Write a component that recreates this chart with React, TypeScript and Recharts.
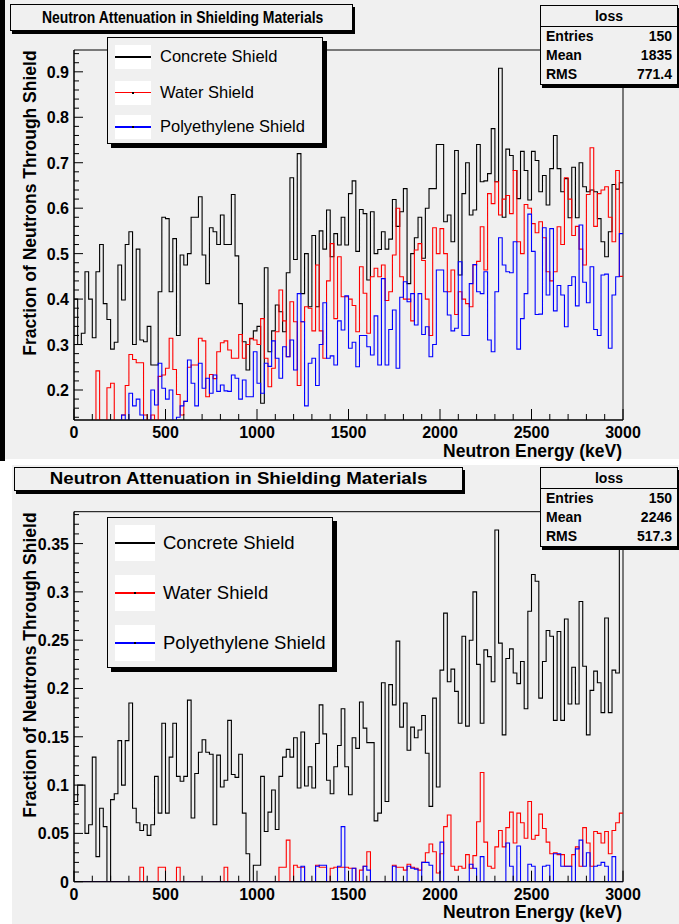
import React from 'react';
import { LineChart, Line, XAxis, YAxis, ReferenceArea } from 'recharts';

const FONT = '"Liberation Sans", Arial, Helvetica, sans-serif';
const BG = '#f0f0f0';

// 150 bins of 20 keV, low edges
const binLow = Array.from({ length: 150 }, (_, i) => i * 20);

// ---- upper pad ----
const topConcrete = [
  0.40, 0.30, 0.325, 0.46, 0.40, 0.315, 0.46, 0.52, 0.39, 0.355,
  0.29, 0.305, 0.475, 0.398, 0.52, 0.548, 0.30, 0.51, 0.31, 0.306,
  0.34, 0.255, 0.255, 0.416, 0.58, 0.577, 0.416, 0.533, 0.32, 0.497,
  0.475, 0.50, 0.58, 0.58, 0.625, 0.497, 0.434, 0.557, 0.548, 0.52,
  0.585, 0.52, 0.52, 0.63, 0.495, 0.39, 0.306, 0.244, 0.313, 0.33,
  0.34, 0.171, 0.469, 0.284, 0.33, 0.387, 0.372, 0.328, 0.458, 0.667,
  0.487, 0.72, 0.412, 0.50, 0.383, 0.54, 0.383, 0.55, 0.51, 0.596,
  0.493, 0.544, 0.519, 0.58, 0.519, 0.632, 0.66, 0.505, 0.597, 0.588,
  0.442, 0.592, 0.50, 0.509, 0.548, 0.51, 0.532, 0.619, 0.56, 0.592,
  0.643, 0.434, 0.50, 0.535, 0.58, 0.49, 0.60, 0.643, 0.643, 0.74,
  0.74, 0.57, 0.585, 0.526, 0.727, 0.453, 0.632, 0.70, 0.585, 0.596,
  0.74, 0.658, 0.66, 0.676, 0.775, 0.658, 0.908, 0.58, 0.73, 0.716,
  0.683, 0.621, 0.725, 0.683, 0.618, 0.725, 0.705, 0.636, 0.672, 0.607,
  0.687, 0.76, 0.687, 0.636, 0.665, 0.579, 0.69, 0.579, 0.70, 0.647,
  0.636, 0.64, 0.636, 0.577, 0.526, 0.493, 0.548, 0.652, 0.642, 0.656,
];
const topWater = [
  0.12, 0.12, 0.12, 0.12, 0.12, 0.12, 0.242, 0.12, 0.12, 0.205,
  0.215, 0.12, 0.12, 0.145, 0.21, 0.278, 0.267, 0.26, 0.26, 0.145,
  0.12, 0.145, 0.12, 0.23, 0.233, 0.248, 0.314, 0.245, 0.19, 0.145,
  0.175, 0.25, 0.255, 0.255, 0.314, 0.308, 0.185, 0.234, 0.225, 0.284,
  0.304, 0.308, 0.288, 0.27, 0.27, 0.322, 0.27, 0.30, 0.314, 0.31,
  0.30, 0.357, 0.27, 0.207, 0.248, 0.328, 0.42, 0.352, 0.273, 0.394,
  0.35, 0.21, 0.35, 0.383, 0.38, 0.33, 0.475, 0.33, 0.27, 0.44,
  0.522, 0.357, 0.493, 0.405, 0.405, 0.40, 0.386, 0.328, 0.471, 0.413,
  0.325, 0.449, 0.468, 0.449, 0.475, 0.397, 0.416, 0.497, 0.60, 0.449,
  0.40, 0.40, 0.352, 0.508, 0.522, 0.485, 0.40, 0.32, 0.557, 0.50,
  0.555, 0.50, 0.416, 0.464, 0.366, 0.416, 0.40, 0.39, 0.383, 0.475,
  0.483, 0.559, 0.464, 0.632, 0.61, 0.658, 0.585, 0.62, 0.628, 0.588,
  0.683, 0.526, 0.50, 0.608, 0.60, 0.566, 0.546, 0.57, 0.535, 0.46,
  0.44, 0.46, 0.559, 0.52, 0.667, 0.62, 0.54, 0.56, 0.51, 0.475,
  0.63, 0.733, 0.56, 0.632, 0.64, 0.647, 0.58, 0.526, 0.683, 0.45,
];
const topPoly = [
  0.12, 0.12, 0.12, 0.12, 0.12, 0.12, 0.12, 0.12, 0.12, 0.12,
  0.12, 0.12, 0.12, 0.145, 0.12, 0.193, 0.165, 0.18, 0.145, 0.12,
  0.12, 0.20, 0.167, 0.259, 0.204, 0.18, 0.20, 0.12, 0.14, 0.165,
  0.175, 0.266, 0.215, 0.165, 0.259, 0.204, 0.226, 0.193, 0.233, 0.197,
  0.211, 0.198, 0.197, 0.233, 0.226, 0.18, 0.222, 0.185, 0.185, 0.284,
  0.215, 0.193, 0.259, 0.252, 0.308, 0.27, 0.226, 0.295, 0.273, 0.31,
  0.244, 0.412, 0.35, 0.165, 0.259, 0.27, 0.21, 0.30, 0.392, 0.27,
  0.275, 0.255, 0.352, 0.332, 0.407, 0.292, 0.305, 0.251, 0.32, 0.32,
  0.295, 0.277, 0.363, 0.255, 0.445, 0.255, 0.333, 0.376, 0.248, 0.404,
  0.438, 0.394, 0.412, 0.343, 0.412, 0.322, 0.339, 0.273, 0.30, 0.464,
  0.464, 0.416, 0.365, 0.33, 0.336, 0.482, 0.32, 0.32, 0.434, 0.476,
  0.416, 0.412, 0.46, 0.31, 0.284, 0.416, 0.535, 0.475, 0.46, 0.458,
  0.526, 0.29, 0.357, 0.412, 0.587, 0.505, 0.366, 0.367, 0.557, 0.409,
  0.555, 0.374, 0.43, 0.409, 0.339, 0.43, 0.449, 0.385, 0.563, 0.437,
  0.392, 0.471, 0.333, 0.32, 0.453, 0.455, 0.292, 0.409, 0.449, 0.544,
];

// ---- lower pad ----
const botConcrete = [
  0.083, 0.10, 0.10, 0.05, 0.059, 0.129, 0.026, 0.076, 0.057, 0.0,
  0.085, 0.091, 0.146, 0.10, 0.146, 0.185, 0.076, 0.061, 0.053, 0.059,
  0.048, 0.059, 0.109, 0.071, 0.164, 0.071, 0.129, 0.164, 0.109, 0.104,
  0.109, 0.188, 0.066, 0.112, 0.134, 0.147, 0.134, 0.132, 0.059, 0.131,
  0.098, 0.105, 0.167, 0.111, 0.108, 0.132, 0.071, 0.029, 0.0, 0.017,
  0.017, 0.109, 0.052, 0.072, 0.095, 0.054, 0.109, 0.129, 0.137, 0.129,
  0.149, 0.097, 0.155, 0.099, 0.119, 0.097, 0.143, 0.183, 0.153, 0.105,
  0.091, 0.119, 0.141, 0.179, 0.119, 0.09, 0.149, 0.138, 0.186, 0.159,
  0.144, 0.144, 0.063, 0.071, 0.206, 0.083, 0.204, 0.183, 0.249, 0.16,
  0.185, 0.136, 0.16, 0.149, 0.157, 0.172, 0.133, 0.078, 0.19, 0.098,
  0.219, 0.278, 0.207, 0.22, 0.197, 0.164, 0.254, 0.161, 0.25, 0.30,
  0.225, 0.164, 0.24, 0.233, 0.207, 0.364, 0.247, 0.152, 0.231, 0.241,
  0.216, 0.205, 0.228, 0.179, 0.28, 0.318, 0.311, 0.19, 0.228, 0.26,
  0.254, 0.167, 0.259, 0.167, 0.272, 0.184, 0.222, 0.184, 0.29, 0.223,
  0.152, 0.198, 0.218, 0.206, 0.175, 0.273, 0.175, 0.219, 0.216, 0.36,
];
const botWater = [
  0, 0, 0, 0, 0, 0, 0, 0, 0, 0,
  0, 0, 0, 0, 0, 0, 0, 0, 0.015, 0,
  0, 0, 0, 0.015, 0.015, 0, 0, 0, 0.015, 0,
  0, 0, 0, 0, 0, 0, 0, 0, 0, 0,
  0, 0.015, 0, 0, 0, 0, 0, 0, 0, 0,
  0, 0, 0, 0, 0, 0, 0.015, 0.015, 0.043, 0,
  0.017, 0.015, 0.015, 0, 0, 0, 0.017, 0.015, 0.015, 0,
  0.014, 0.015, 0.015, 0.015, 0.015, 0.014, 0.014, 0, 0.012, 0.016,
  0.031, 0, 0, 0, 0, 0, 0, 0.017, 0.015, 0.015,
  0.012, 0.018, 0.015, 0.014, 0.012, 0.02, 0.03, 0.039, 0.031, 0.009,
  0.029, 0.057, 0.069, 0.016, 0.012, 0.016, 0.014, 0.028, 0.014, 0.027,
  0.062, 0.113, 0.041, 0.016, 0.014, 0.036, 0.053, 0.036, 0.056, 0.072,
  0.04, 0.071, 0.061, 0.045, 0.083, 0.044, 0.048, 0.07, 0.055, 0.041,
  0.029, 0.03, 0.028, 0.028, 0.016, 0.016, 0.028, 0.036, 0.016, 0.056,
  0.04, 0.016, 0.052, 0.05, 0.04, 0.052, 0.029, 0.053, 0.061, 0.071,
];
const botPoly = [
  0, 0, 0, 0, 0, 0, 0, 0, 0, 0,
  0, 0, 0, 0, 0, 0, 0, 0, 0, 0,
  0, 0, 0, 0, 0, 0, 0, 0, 0, 0,
  0, 0, 0, 0, 0, 0, 0, 0, 0, 0,
  0, 0, 0, 0, 0, 0, 0, 0, 0, 0,
  0, 0, 0, 0, 0, 0, 0, 0, 0, 0,
  0, 0, 0.016, 0, 0, 0, 0.016, 0.017, 0.017, 0,
  0, 0, 0.016, 0.057, 0, 0, 0.014, 0, 0, 0.016,
  0.012, 0, 0, 0, 0, 0, 0, 0.016, 0, 0,
  0, 0.016, 0.014, 0.013, 0, 0.02, 0.02, 0.017, 0, 0,
  0.041, 0, 0, 0, 0, 0, 0, 0, 0.018, 0.014,
  0, 0.026, 0, 0, 0, 0, 0, 0, 0.04, 0.016,
  0, 0.037, 0, 0, 0.018, 0.016, 0, 0, 0.016, 0.017,
  0, 0.029, 0.029, 0.016, 0.016, 0.016, 0, 0.034, 0.043, 0.016,
  0.03, 0, 0.016, 0.017, 0.02, 0.016, 0, 0.026, 0, 0,
];

const xMinorTicks = Array.from({ length: 31 }, (_, i) => i * 100);
const legendNames = ['Concrete Shield', 'Water Shield', 'Polyethylene Shield'];
const seriesColors = ['#000000', '#ff0000', '#0000ff'];

const topStats = { entries: '150', mean: '1835', rms: '771.4' };
const botStats = { entries: '150', mean: '2246', rms: '517.3' };

const topDomain: [number, number] = [0.134, 0.948];
const botDomain: [number, number] = [0, 0.383];
const topYTicks = Array.from({ length: 41 }, (_, i) => +(0.14 + i * 0.02).toFixed(2));
const botYTicks = Array.from({ length: 39 }, (_, i) => +(i * 0.01).toFixed(2));

const buildRows = (c: number[], w: number[], p: number[]) => {
  const rows = binLow.map((e, i) => ({ e, c: c[i], w: w[i], p: p[i] }));
  // closing edge of the last bin
  rows.push({ e: 3000, c: c[149], w: w[149], p: p[149] });
  return rows;
};

const labelStyle = { fontFamily: FONT, fontWeight: 700, fontSize: 16, fill: '#000' };

const XTick = (props: any) => {
  const { x, y, payload } = props;
  const v = payload.value;
  const major = v % 500 === 0;
  return (
    <g>
      <line x1={x} x2={x} y1={y} y2={y - (major ? 11 : 6)} stroke="#000" strokeWidth={1} />
      {major && (
        <text x={x} y={y + 18} textAnchor="middle" style={labelStyle}>
          {v}
        </text>
      )}
    </g>
  );
};

const makeYTick = (isMajor: (v: number) => boolean, fmt: (v: number) => string) => (props: any) => {
  const { x, y, payload } = props;
  const v = payload.value;
  const major = isMajor(v);
  return (
    <g>
      <line x1={x} x2={x + (major ? 9 : 5)} y1={y} y2={y} stroke="#000" strokeWidth={1} />
      {major && (
        <text x={x - 5} y={y + 6} textAnchor="end" style={labelStyle}>
          {fmt(v)}
        </text>
      )}
    </g>
  );
};

const topYTick = makeYTick(
  (v) => Math.round(v * 100) % 10 === 0,
  (v) => v.toFixed(1)
);
const botYTick = makeYTick(
  (v) => Math.round(v * 100) % 5 === 0,
  (v) => String(+v.toFixed(2))
);

function HistPanel(props: {
  rows: any[];
  domain: [number, number];
  yTicks: number[];
  yTick: any;
  height: number;
  margin: any;
}) {
  const { rows, domain, yTicks, yTick, height, margin } = props;
  return (
    <LineChart width={679} height={height} data={rows} margin={margin}>
      <XAxis
        type="number"
        dataKey="e"
        domain={[0, 3000]}
        ticks={xMinorTicks}
        interval={0}
        tickSize={0}
        tickMargin={0}
        tickLine={false}
        tick={(p: any) => <XTick {...p} />}
        axisLine={{ stroke: '#000' }}
        height={30}
        allowDataOverflow
      />
      <YAxis
        type="number"
        domain={domain}
        ticks={yTicks}
        interval={0}
        tickSize={0}
        tickMargin={0}
        tickLine={false}
        tick={yTick}
        axisLine={{ stroke: '#000' }}
        width={40}
        allowDataOverflow
      />
      <ReferenceArea x1={0} x2={3000} y1={domain[0]} y2={domain[1]} fill="none" stroke="#000" strokeWidth={1} fillOpacity={0} />
      <Line type="stepAfter" dataKey="c" stroke={seriesColors[0]} strokeWidth={1.1} dot={false} isAnimationActive={false} />
      <Line type="stepAfter" dataKey="w" stroke={seriesColors[1]} strokeWidth={1.1} dot={false} isAnimationActive={false} />
      <Line type="stepAfter" dataKey="p" stroke={seriesColors[2]} strokeWidth={1.1} dot={false} isAnimationActive={false} />
    </LineChart>
  );
}

function TitleBox({ left, top, width, height, stretch }: { left: number; top: number; width: number; height: number; stretch: number }) {
  return (
    <div
      style={{
        position: 'absolute', left, top, width, height, boxSizing: 'border-box',
        border: '1px solid #000', boxShadow: '2px 3px 0 #000', background: BG,
        textAlign: 'center', lineHeight: `${height - 2}px`, fontWeight: 700, fontSize: 17,
        whiteSpace: 'nowrap',
      }}
    >
      <span style={{ display: 'inline-block', transform: `scaleX(${stretch})` }}>
        Neutron Attenuation in Shielding Materials
      </span>
    </div>
  );
}

function StatsBox({ top, stats }: { top: number; stats: { entries: string; mean: string; rms: string } }) {
  const row = { display: 'flex', justifyContent: 'space-between', padding: '0 5px', height: 19, lineHeight: '19px' };
  return (
    <div
      style={{
        position: 'absolute', left: 540, top, width: 138, boxSizing: 'border-box',
        border: '1px solid #000', boxShadow: '2px 3px 0 #000', background: BG,
        fontWeight: 700, fontSize: 14,
      }}
    >
      <div style={{ textAlign: 'center', height: 20, lineHeight: '20px', borderBottom: '1px solid #000' }}>loss</div>
      <div style={row}><span>Entries</span><span>{stats.entries}</span></div>
      <div style={row}><span>Mean</span><span>{stats.mean}</span></div>
      <div style={row}><span>RMS</span><span>{stats.rms}</span></div>
    </div>
  );
}

function LegendBox(props: {
  left: number; top: number; width: number; height: number;
  centers: number[]; sampleW: number; sampleH: number; textLeft: number; fontSize: number; dots: boolean[];
}) {
  const { left, top, width, height, centers, sampleW, sampleH, textLeft, fontSize, dots } = props;
  return (
    <>
      <div
        style={{
          position: 'absolute', left, top, width, height, boxSizing: 'border-box',
          border: '1px solid #000', boxShadow: '4px 4px 0 #000', background: BG,
        }}
      />
      {legendNames.map((name, i) => (
        <React.Fragment key={name}>
          <div style={{ position: 'absolute', left: 115, top: centers[i] - sampleH / 2, width: sampleW, height: sampleH, background: '#fff' }} />
          <div style={{ position: 'absolute', left: 115, top: centers[i] - 1, width: sampleW, height: 1.5, background: seriesColors[i] }} />
          {dots[i] && (
            <div style={{ position: 'absolute', left: 115 + sampleW / 2 - 1, top: centers[i] - 1, width: 2, height: 2, background: '#000' }} />
          )}
          <div style={{ position: 'absolute', left: textLeft, top: centers[i] - fontSize * 0.6, fontSize, lineHeight: `${fontSize * 1.2}px`, whiteSpace: 'nowrap' }}>
            {name}
          </div>
        </React.Fragment>
      ))}
    </>
  );
}

function YTitle({ cx, cy }: { cx: number; cy: number }) {
  return (
    <div
      style={{
        position: 'absolute', left: cx - 170, top: cy - 11, width: 340, height: 22, lineHeight: '22px',
        textAlign: 'center', transform: 'rotate(-90deg)', fontWeight: 700, fontSize: 17.5, whiteSpace: 'nowrap',
      }}
    >
      Fraction of Neutrons Through Shield
    </div>
  );
}

function XTitle({ top }: { top: number }) {
  return (
    <div style={{ position: 'absolute', right: 57, top, lineHeight: '22px', fontWeight: 700, fontSize: 17.5, whiteSpace: 'nowrap' }}>
      Neutron Energy (keV)
    </div>
  );
}

export default function App() {
  const topRows = buildRows(topConcrete, topWater, topPoly);
  const botRows = buildRows(botConcrete, botWater, botPoly);
  return (
    <div style={{ position: 'absolute', left: 0, top: 0, width: 679, height: 924, background: '#fff', fontFamily: FONT, overflow: 'hidden', color: '#000' }}>
      {/* upper pad */}
      <div style={{ position: 'absolute', left: 0, top: 0, width: 679, height: 459, background: BG }} />
      <div style={{ position: 'absolute', left: 0, top: 0, width: 5, height: 461, background: '#000' }} />
      <div style={{ position: 'absolute', left: 0, top: 0 }}>
        <HistPanel rows={topRows} domain={topDomain} yTicks={topYTicks} yTick={topYTick} height={459}
          margin={{ top: 50, right: 56, bottom: 9, left: 34 }} />
      </div>
      <YTitle cx={30} cy={203} />
      <XTitle top={440} />
      <TitleBox left={10} top={4} width={343} height={27} stretch={0.82} />
      <StatsBox top={5} stats={topStats} />
      <LegendBox left={107} top={37} width={216} height={107} centers={[57, 92.5, 127]}
        sampleW={36} sampleH={24} textLeft={160} fontSize={16.5} dots={[false, true, true]} />

      {/* lower pad */}
      <div style={{ position: 'absolute', left: 12, top: 465, width: 667, height: 459, background: BG }} />
      <div style={{ position: 'absolute', left: 0, top: 465 }}>
        <HistPanel rows={botRows} domain={botDomain} yTicks={botYTicks} yTick={botYTick} height={459}
          margin={{ top: 46.7, right: 56, bottom: 12.3, left: 34 }} />
      </div>
      <YTitle cx={30} cy={665} />
      <XTitle top={901} />
      <TitleBox left={14} top={467} width={449} height={24} stretch={1.1} />
      <StatsBox top={467} stats={botStats} />
      <LegendBox left={107} top={517} width={226} height={151} centers={[543, 593, 643]}
        sampleW={40} sampleH={36} textLeft={163} fontSize={18.5} dots={[true, true, true]} />
    </div>
  );
}
